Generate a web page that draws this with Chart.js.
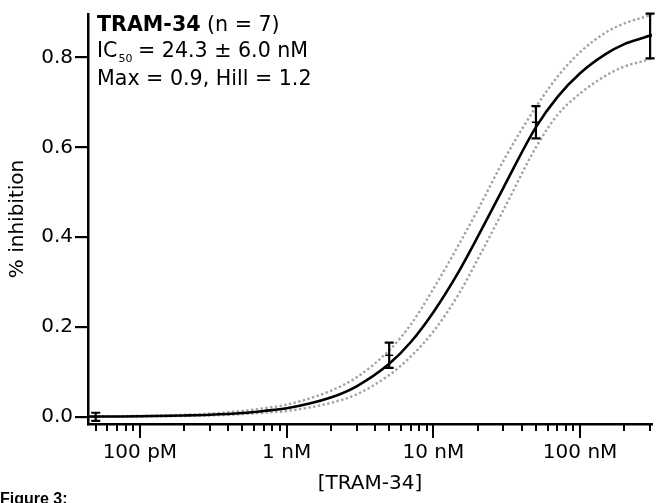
<!DOCTYPE html>
<html>
<head>
<meta charset="utf-8">
<script src="https://cdn.jsdelivr.net/npm/chart.js@4.4.1/dist/chart.umd.min.js"></script>
<style>
  html, body { margin: 0; padding: 0; background: #fff; }
  #wrap { width: 658px; height: 503px; }
</style>
</head>
<body>
<div id="wrap"><canvas id="myChart" width="658" height="503"></canvas></div>
<script>
const FONT = "'DejaVu Sans', sans-serif";

// measured points (molar), mean and error
const concs = [5e-11, 5e-9, 5e-8, 3e-7];
const means = [0.0, 0.137, 0.656, 0.848];
const errs = [0.009, 0.028, 0.036, 0.05];

// fitted curve + dotted band
const curveX = [4.43e-11, 5e-11, 7e-11, 1e-10, 2e-10, 3e-10, 5e-10, 7e-10, 1e-9, 2e-9, 3e-9, 5e-9, 7e-9,
                1e-8, 1.5e-8, 2e-8, 3e-8, 5e-8, 7e-8, 1e-7, 1.5e-7, 2e-7, 3e-7, 3.09e-7];
const fitY = [0.0005, 0.0006, 0.0008, 0.0012, 0.003, 0.0046, 0.0085, 0.013, 0.019, 0.043, 0.068, 0.118, 0.166,
              0.233, 0.325, 0.4, 0.51, 0.645, 0.712, 0.765, 0.808, 0.83, 0.849, 0.851];
const upperY = [0.0008, 0.001, 0.0013, 0.002, 0.0045, 0.007, 0.013, 0.019, 0.027, 0.058, 0.088, 0.148, 0.205,
                0.285, 0.385, 0.46, 0.57, 0.69, 0.757, 0.812, 0.856, 0.876, 0.895, 0.897];
const lowerY = [0.0002, 0.0003, 0.0004, 0.0007, 0.0018, 0.003, 0.006, 0.009, 0.013, 0.031, 0.05, 0.093, 0.134,
                0.19, 0.275, 0.35, 0.46, 0.6, 0.672, 0.72, 0.76, 0.78, 0.797, 0.799];

const xMajor = [1e-10, 1e-9, 1e-8, 1e-7];
const xLabels = ['100 pM', '1 nM', '10 nM', '100 nM'];
const yTicks = [0, 0.2, 0.4, 0.6, 0.8];

const X_MIN = 4.43e-11, X_MAX = 3.09e-7;
const Y_MIN = -0.016, Y_MAX = 0.897;

let xMinor = [];
for (let d = 1e-11; d <= 1e-7; d *= 10) {
    for (let k = 2; k <= 9; k++) {
        let v = d * k;
        if (v >= X_MIN && v <= X_MAX) xMinor.push(v);
    }
}

const pts = (xs, ys) => xs.map((v, i) => ({ x: v, y: ys[i] }));

const extras = {
    id: 'extras',
    afterDatasetsDraw(chart) {
        const { ctx, scales: { x, y } } = chart;
        ctx.save();
        ctx.strokeStyle = '#000';
        ctx.lineWidth = 2.2;
        concs.forEach((c, i) => {
            const px = x.getPixelForValue(c);
            const top = y.getPixelForValue(means[i] + errs[i]);
            const bot = y.getPixelForValue(means[i] - errs[i]);
            ctx.beginPath();
            ctx.moveTo(px, top); ctx.lineTo(px, bot);
            ctx.moveTo(px - 4.5, top); ctx.lineTo(px + 4.5, top);
            ctx.moveTo(px - 4.5, bot); ctx.lineTo(px + 4.5, bot);
            ctx.stroke();
        });
        ctx.restore();
    },
    afterDraw(chart) {
        const { ctx, scales: { x }, chartArea } = chart;
        ctx.save();
        ctx.strokeStyle = '#000';
        ctx.lineWidth = 2;
        const base = chartArea.bottom;
        xMinor.forEach(v => {
            const px = Math.round(x.getPixelForValue(v));
            ctx.beginPath(); ctx.moveTo(px, base); ctx.lineTo(px, base + 7); ctx.stroke();
        });
        xMajor.forEach(v => {
            const px = Math.round(x.getPixelForValue(v));
            ctx.beginPath(); ctx.moveTo(px, base); ctx.lineTo(px, base + 14); ctx.stroke();
        });

        // annotation
        ctx.fillStyle = '#000';
        ctx.textBaseline = 'alphabetic';
        let tx = 97;
        ctx.font = 'bold 20.6px ' + FONT;
        ctx.fillText('TRAM-34', tx, 31);
        let w = ctx.measureText('TRAM-34').width;
        ctx.font = '20.6px ' + FONT;
        ctx.fillText(' (n = 7)', tx + w, 31);

        ctx.fillText('IC', tx, 57);
        w = ctx.measureText('IC').width;
        ctx.font = '11px ' + FONT;
        ctx.fillText('50', tx + w + 1, 62);
        let w2 = ctx.measureText('50').width;
        ctx.font = '20.6px ' + FONT;
        ctx.fillText(' = 24.3 \u00b1 6.0 nM', tx + w + w2, 57);

        ctx.fillText('Max = 0.9, Hill = 1.2', tx, 85);

        ctx.font = "bold 16px 'Liberation Sans', sans-serif";
        ctx.fillText('Figure 3:', 0, 504);
        ctx.restore();
    }
};

const data = {
    datasets: [
        {
            label: 'data',
            data: pts(concs, means),
            showLine: false,
            pointStyle: 'line',
            pointRadius: 4,
            borderColor: '#000',
            borderWidth: 1.5,
            order: 0
        },
        {
            label: 'fit',
            data: pts(curveX, fitY),
            borderColor: '#000',
            borderWidth: 2.6,
            pointRadius: 0,
            cubicInterpolationMode: 'monotone',
            order: 1
        },
        {
            label: 'upper',
            data: pts(curveX, upperY),
            borderColor: '#a3a3a3',
            borderWidth: 2.4,
            borderDash: [2.4, 2.4],
            pointRadius: 0,
            cubicInterpolationMode: 'monotone',
            order: 2
        },
        {
            label: 'lower',
            data: pts(curveX, lowerY),
            borderColor: '#a3a3a3',
            borderWidth: 2.4,
            borderDash: [2.4, 2.4],
            pointRadius: 0,
            cubicInterpolationMode: 'monotone',
            order: 3
        }
    ]
};

const config = {
    type: 'line',
    data: data,
    options: {
        responsive: false,
        animation: false,
        layout: { padding: { top: 12, right: 6, left: 0, bottom: 0 } },
        plugins: {
            legend: { display: false },
            tooltip: { enabled: false }
        },
        scales: {
            x: {
                type: 'logarithmic',
                min: X_MIN,
                max: X_MAX,
                afterBuildTicks: axis => { axis.ticks = xMajor.map(v => ({ value: v })); },
                afterFit: axis => { axis.height = 79; },
                grid: { display: true, drawOnChartArea: false, drawTicks: false },
                border: { display: true, color: '#000', width: 2.5 },
                ticks: {
                    autoSkip: false,
                    maxRotation: 0,
                    padding: 17,
                    color: '#000',
                    font: { family: FONT, size: 20 },
                    callback: (v, i) => xLabels[i]
                },
                title: {
                    display: true,
                    text: '[TRAM-34]',
                    color: '#000',
                    font: { family: FONT, size: 20 },
                    padding: { top: 0, bottom: 7 }
                }
            },
            y: {
                min: Y_MIN,
                max: Y_MAX,
                afterBuildTicks: axis => { axis.ticks = yTicks.map(v => ({ value: v })); },
                afterFit: axis => { axis.width = 88; },
                grid: { drawOnChartArea: false, drawTicks: true, tickLength: 13, color: '#000', lineWidth: 2.2 },
                border: { display: true, color: '#000', width: 2.5 },
                ticks: {
                    padding: 2,
                    color: '#000',
                    font: { family: FONT, size: 20 },
                    callback: v => v.toFixed(1)
                },
                title: {
                    display: true,
                    text: '% inhibition',
                    color: '#000',
                    font: { family: FONT, size: 20 },
                    padding: { top: 6, bottom: 0 }
                }
            }
        }
    },
    plugins: [extras]
};

const ctxChart = document.getElementById('myChart').getContext('2d');
const chart = new Chart(ctxChart, config);
</script>
</body>
</html>
